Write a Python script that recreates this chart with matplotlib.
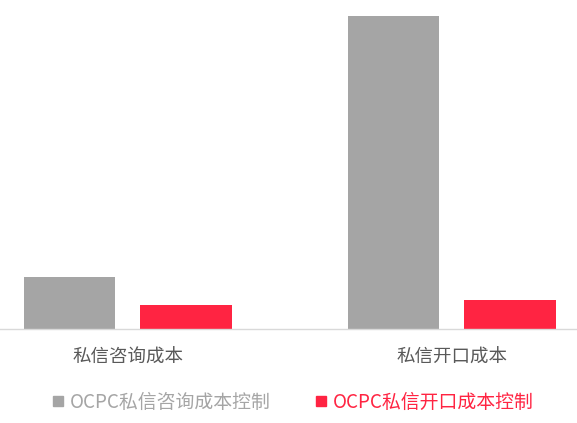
import matplotlib
matplotlib.use("Agg")
import matplotlib.pyplot as plt
from matplotlib.lines import Line2D
import numpy as np

plt.rcParams['font.family'] = ['Noto Sans CJK SC', 'DejaVu Sans']

categories = ['私信咨询成本', '私信开口成本']
series_names = ['OCPC私信咨询成本控制', 'OCPC私信开口成本控制']
gray_values = [52, 313]
red_values = [24, 29]

gray = '#a5a5a5'
red = '#ff2442'

fig = plt.figure(figsize=(5.77, 4.23), dpi=100)
ax = fig.add_axes([0, 94/423, 1, 329/423])

x = np.arange(len(categories))
w = 0.282
off = 0.18
ax.bar(x - off, gray_values, w, color=gray)
ax.bar(x + off, red_values, w, color=red)

ax.set_xlim(-0.394, 1.387)
ax.set_ylim(0, 329)
ax.set_yticks([])
ax.set_xticks(x)
ax.set_xticklabels(categories, fontsize=13.3, color='#595959')
ax.tick_params(axis='x', length=0, pad=14)
for s in ['top', 'right', 'left']:
    ax.spines[s].set_visible(False)
ax.spines['bottom'].set_color('#d9d9d9')
ax.spines['bottom'].set_linewidth(1.0)

handles = [Line2D([], [], marker='s', linestyle='none', color=gray, markersize=7),
           Line2D([], [], marker='s', linestyle='none', color=red, markersize=7)]
leg = fig.legend(handles, series_names, loc='center', bbox_to_anchor=(0.509, 21/423),
                 ncol=2, frameon=False, fontsize=13.6, handlelength=0.5,
                 handletextpad=0.4, columnspacing=2.4, borderpad=0)
for t, c in zip(leg.get_texts(), [gray, red]):
    t.set_color(c)

fig.savefig('out.png', dpi=100)
